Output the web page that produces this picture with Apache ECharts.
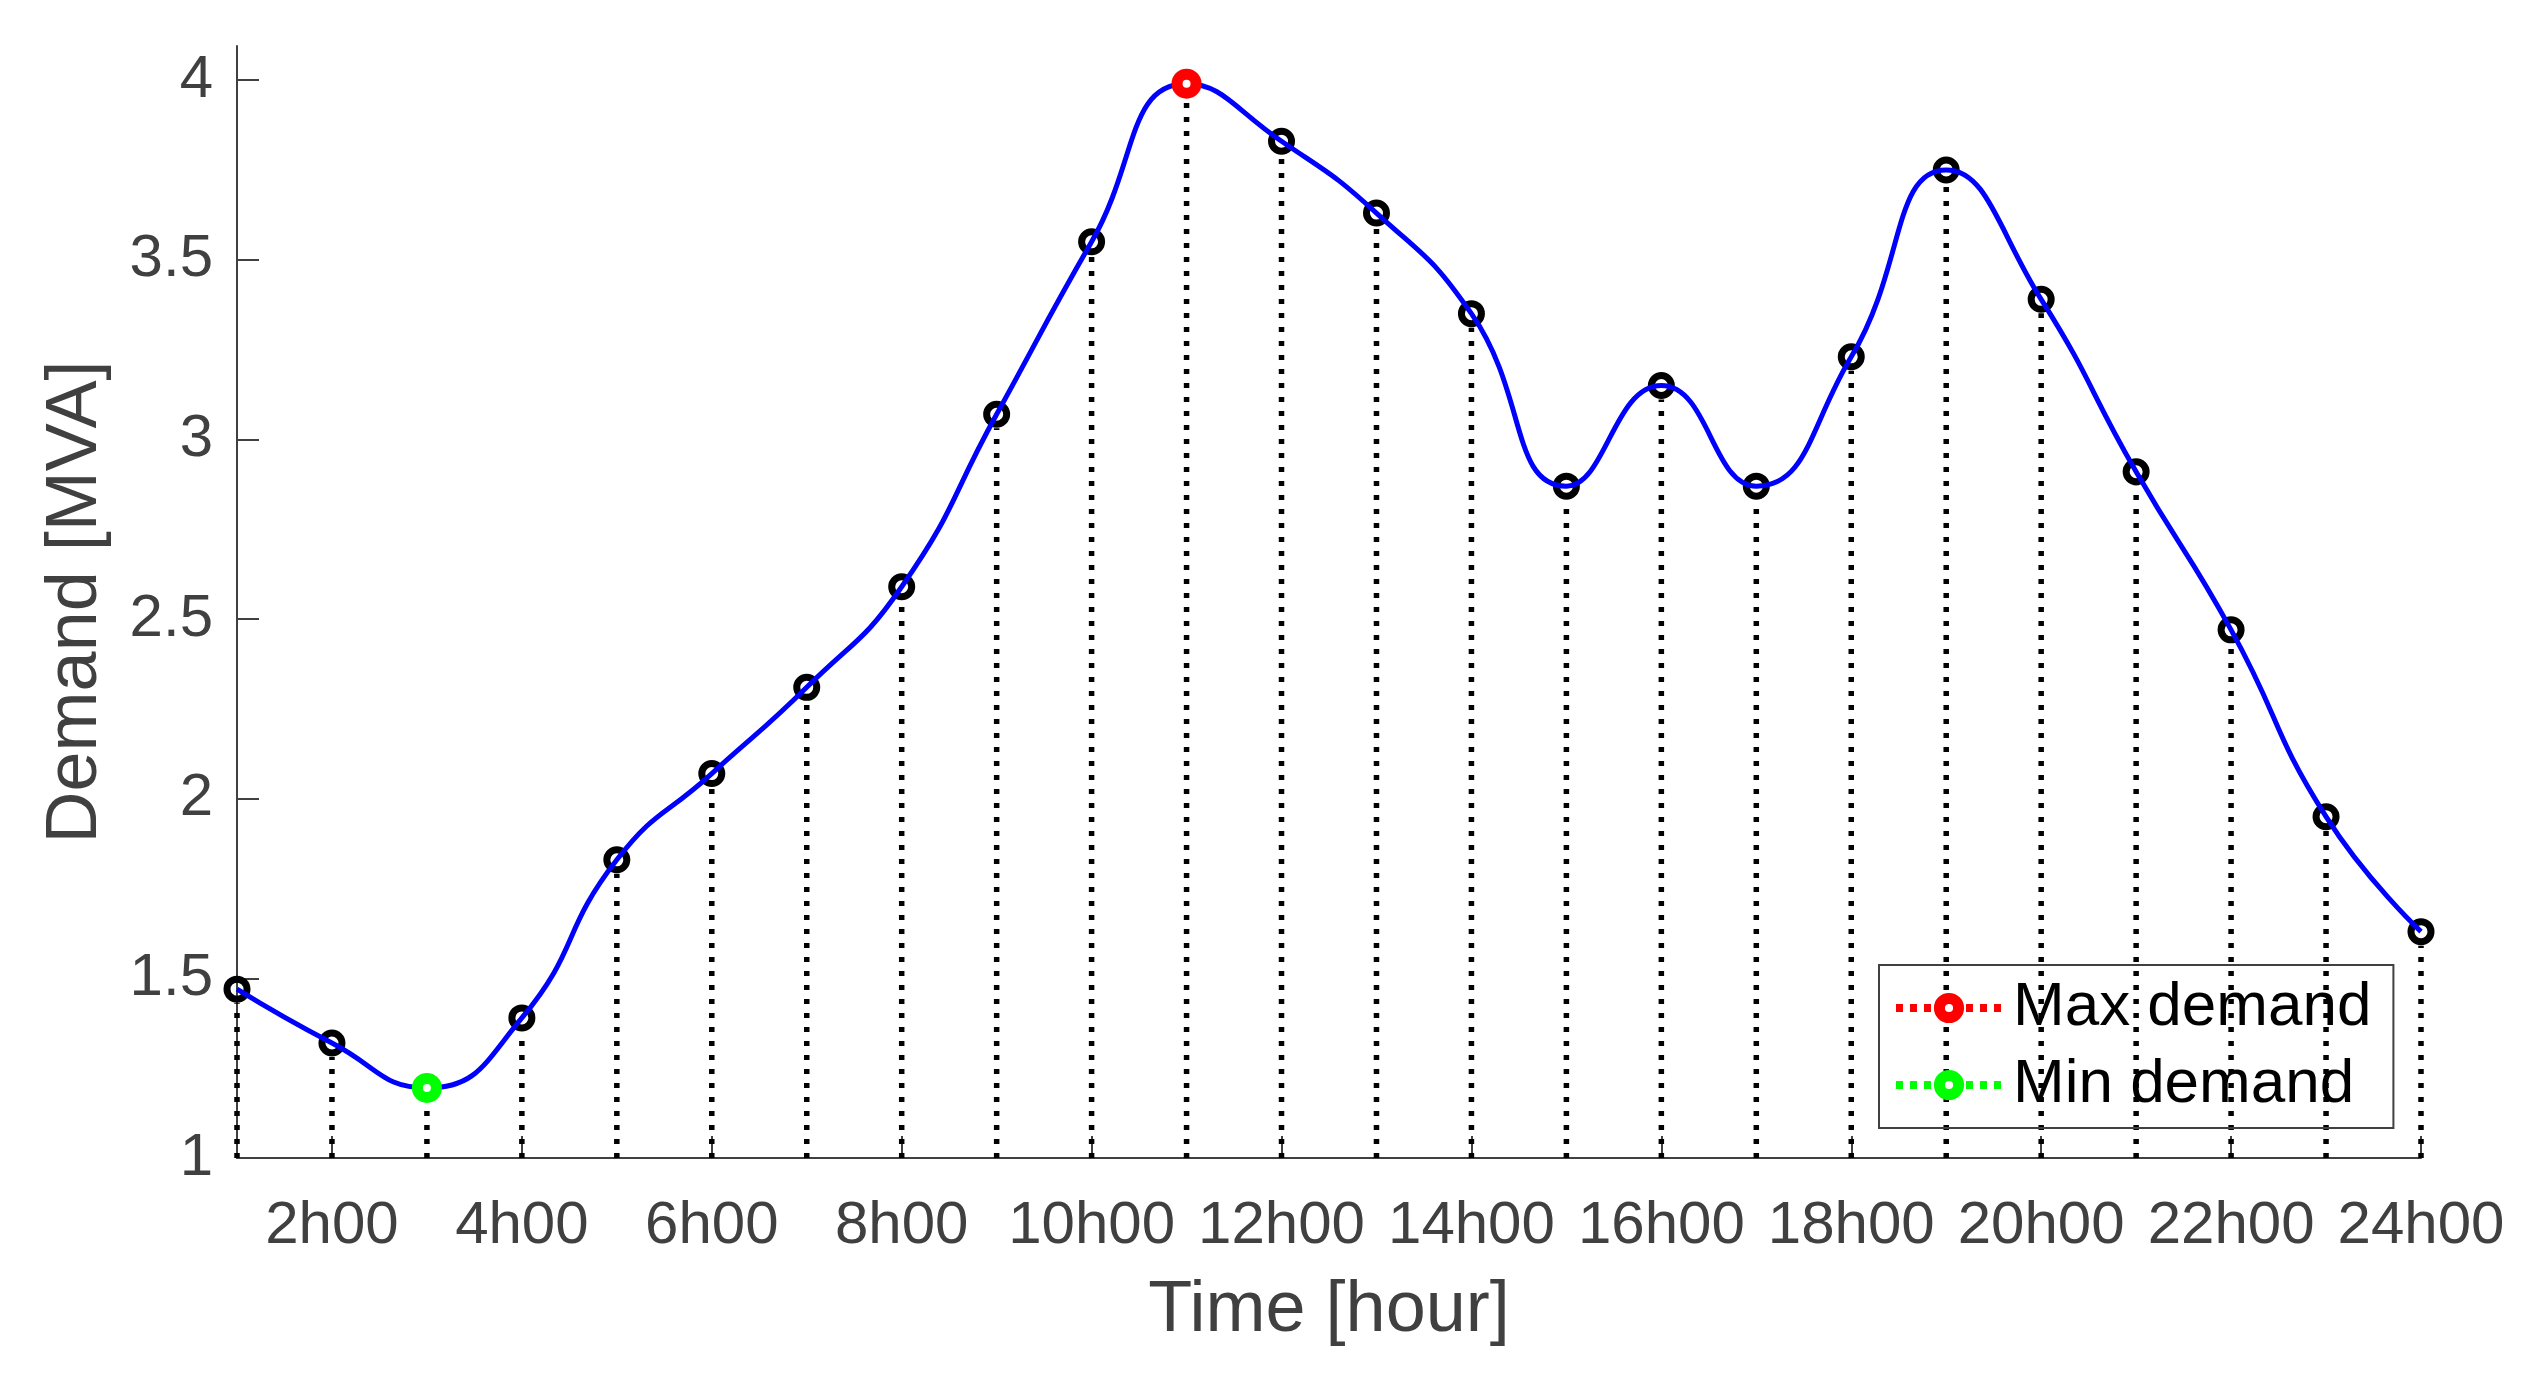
<!DOCTYPE html>
<html>
<head>
<meta charset="utf-8">
<title>Demand</title>
<script src="https://cdn.jsdelivr.net/npm/echarts@6/dist/echarts.min.js"></script>
<style>
  html, body { margin: 0; padding: 0; background: #fff; }
  #chart { width: 2531px; height: 1391px; }
</style>
</head>
<body>
<div id="chart"></div>
<script>
// hourly demand
const hours = [1, 2, 3, 4, 5, 6, 7, 8, 9, 10, 11, 12, 13, 14, 15, 16, 17, 18, 19, 20, 21, 22, 23, 24];
const demand = [1.47, 1.32, 1.195, 1.39, 1.83, 2.07, 2.31, 2.59, 3.07, 3.55, 3.99, 3.83,
                3.63, 3.35, 2.87, 3.15, 2.87, 3.23, 3.75, 3.39, 2.91, 2.47, 1.95, 1.63];
const xTicks = [2, 4, 6, 8, 10, 12, 14, 16, 18, 20, 22, 24];
const yTicks = [1, 1.5, 2, 2.5, 3, 3.5, 4];

const points = hours.map((h, i) => [h, demand[i]]);
const iMax = demand.indexOf(Math.max(...demand));
const iMin = demand.indexOf(Math.min(...demand));

const FONT = "'Liberation Sans', Arial, sans-serif";
const AXIS_COLOR = '#404040';

const chart = echarts.init(document.getElementById('chart'), null, { renderer: 'canvas' });

const option = {
  backgroundColor: '#fff',
  animation: false,
  grid: { left: 237, right: 110, top: 46, bottom: 233, containLabel: false },
  xAxis: {
    type: 'value',
    min: 1,
    max: 24,
    name: 'Time [hour]',
    nameLocation: 'middle',
    nameGap: 117,
    nameTextStyle: { fontFamily: FONT, fontSize: 72, color: AXIS_COLOR },
    splitLine: { show: false },
    axisLine: { lineStyle: { color: AXIS_COLOR, width: 2 } },
    axisTick: { inside: true, length: 22, customValues: xTicks, lineStyle: { color: AXIS_COLOR, width: 2 } },
    axisLabel: {
      customValues: xTicks,
      formatter: v => v + 'h00',
      fontFamily: FONT, fontSize: 60, color: AXIS_COLOR, margin: 38
    }
  },
  yAxis: {
    type: 'value',
    min: 1,
    max: 4.095,
    name: 'Demand [MVA]',
    nameLocation: 'middle',
    nameRotate: 90,
    nameGap: 125,
    nameTextStyle: { fontFamily: FONT, fontSize: 72, color: AXIS_COLOR },
    splitLine: { show: false },
    axisLine: { show: true, lineStyle: { color: AXIS_COLOR, width: 2 } },
    axisTick: { show: true, inside: true, length: 22, customValues: yTicks, lineStyle: { color: AXIS_COLOR, width: 2 } },
    axisLabel: {
      customValues: yTicks,
      fontFamily: FONT, fontSize: 60, color: AXIS_COLOR, margin: 24
    }
  },
  legend: {
    data: ['Max demand', 'Min demand'],
    orient: 'vertical',
    left: 1879,
    top: 965,
    padding: [12, 22, 12, 13],
    itemGap: 15,
    itemWidth: 106,
    itemHeight: 24,
    borderColor: AXIS_COLOR,
    borderWidth: 2,
    backgroundColor: 'transparent',
    lineStyle: { width: 8, type: [7, 7] },
    itemStyle: { borderWidth: 11 },
    textStyle: { fontFamily: FONT, fontSize: 62, color: '#000', padding: [0, 0, 0, 6] }
  },
  series: [
    {
      // stems + black circles
      type: 'custom',
      name: 'stems',
      data: points,
      z: 1,
      renderItem: function (params, api) {
        const x = api.value(0);
        const y = api.value(1);
        const top = api.coord([x, y]);
        const bottom = api.coord([x, 1]);
        return {
          type: 'group',
          children: [
            {
              type: 'line',
              shape: { x1: bottom[0], y1: bottom[1], x2: top[0], y2: top[1] + 14 },
              style: { stroke: '#000', lineWidth: 5.5, lineDash: [5, 9] }
            },
            {
              type: 'circle',
              shape: { cx: top[0], cy: top[1], r: 10 },
              style: { fill: 'none', stroke: '#000', lineWidth: 7 }
            }
          ]
        };
      }
    },
    {
      type: 'line',
      name: 'demand',
      data: points,
      smooth: 0.5,
      showSymbol: false,
      z: 3,
      lineStyle: { color: '#0000ff', width: 5 },
      itemStyle: { color: '#0000ff' }
    },
    {
      type: 'line',
      name: 'Max demand',
      data: [points[iMax]],
      z: 5,
      symbol: 'circle',
      symbolSize: 19,
      lineStyle: { color: '#ff0000', width: 8, type: [7, 7] },
      itemStyle: { color: '#ffffff', borderColor: '#ff0000', borderWidth: 11 }
    },
    {
      type: 'line',
      name: 'Min demand',
      data: [points[iMin]],
      z: 5,
      symbol: 'circle',
      symbolSize: 19,
      lineStyle: { color: '#00ff00', width: 8, type: [7, 7] },
      itemStyle: { color: '#ffffff', borderColor: '#00ff00', borderWidth: 11 }
    }
  ]
};

chart.setOption(option);
</script>
</body>
</html>
